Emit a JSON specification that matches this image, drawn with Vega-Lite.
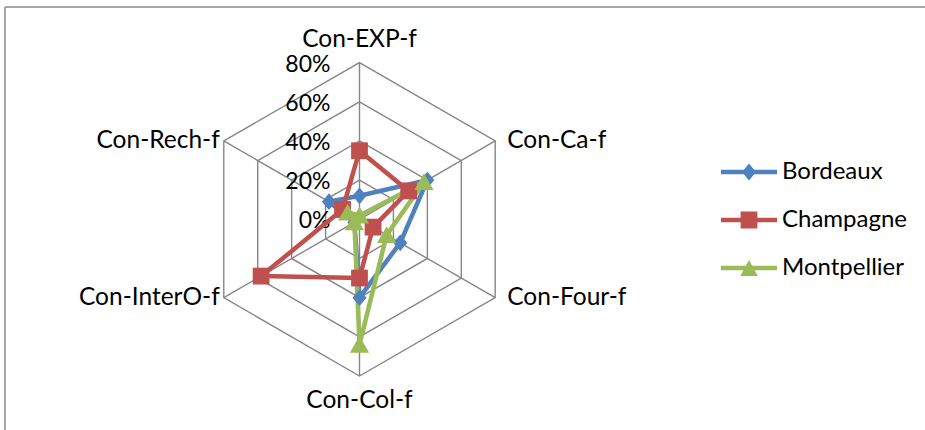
{
  "$schema": "https://vega.github.io/schema/vega-lite/v6.json",
  "width": 925,
  "height": 430,
  "autosize": {"type": "none"},
  "padding": 0,
  "background": "white",
  "config": {"view": {"stroke": null}, "font": "Lato"},
  "datasets": {
    "scores": [
      {"series": "Bordeaux", "axis": "Con-EXP-f", "value": 12},
      {"series": "Bordeaux", "axis": "Con-Ca-f", "value": 40},
      {"series": "Bordeaux", "axis": "Con-Four-f", "value": 24},
      {"series": "Bordeaux", "axis": "Con-Col-f", "value": 40},
      {"series": "Bordeaux", "axis": "Con-InterO-f", "value": 3},
      {"series": "Bordeaux", "axis": "Con-Rech-f", "value": 18},
      {"series": "Champagne", "axis": "Con-EXP-f", "value": 35},
      {"series": "Champagne", "axis": "Con-Ca-f", "value": 29},
      {"series": "Champagne", "axis": "Con-Four-f", "value": 8},
      {"series": "Champagne", "axis": "Con-Col-f", "value": 30},
      {"series": "Champagne", "axis": "Con-InterO-f", "value": 58},
      {"series": "Champagne", "axis": "Con-Rech-f", "value": 10},
      {"series": "Montpellier", "axis": "Con-EXP-f", "value": 2},
      {"series": "Montpellier", "axis": "Con-Ca-f", "value": 38},
      {"series": "Montpellier", "axis": "Con-Four-f", "value": 16},
      {"series": "Montpellier", "axis": "Con-Col-f", "value": 64},
      {"series": "Montpellier", "axis": "Con-InterO-f", "value": 3},
      {"series": "Montpellier", "axis": "Con-Rech-f", "value": 7}
    ],
    "axes": [
      {"axis": "Con-EXP-f", "idx": 0},
      {"axis": "Con-Ca-f", "idx": 1},
      {"axis": "Con-Four-f", "idx": 2},
      {"axis": "Con-Col-f", "idx": 3},
      {"axis": "Con-InterO-f", "idx": 4},
      {"axis": "Con-Rech-f", "idx": 5}
    ],
    "ticks": [
      {"t": 0, "ring": [0, 1, 2, 3, 4, 5]},
      {"t": 20, "ring": [0, 1, 2, 3, 4, 5]},
      {"t": 40, "ring": [0, 1, 2, 3, 4, 5]},
      {"t": 60, "ring": [0, 1, 2, 3, 4, 5]},
      {"t": 80, "ring": [0, 1, 2, 3, 4, 5]}
    ],
    "frame": [{"x0": -181, "x1": 288.7, "y0": 108.4, "y1": -107.57}]
  },
  "layer": [
    {
      "data": {"name": "frame"},
      "mark": {"type": "rule", "stroke": "#8a8a8a", "strokeWidth": 1.5},
      "encoding": {
        "x": {"field": "x0", "type": "quantitative", "scale": {"domain": [-183.53, 288.7], "nice": false, "zero": false}, "axis": null},
        "x2": {"field": "x1"},
        "y": {"field": "y0", "type": "quantitative", "scale": {"domain": [-107.57, 111.96], "nice": false, "zero": false}, "axis": null}
      }
    },
    {
      "data": {"name": "frame"},
      "mark": {"type": "rule", "stroke": "#8a8a8a", "strokeWidth": 1.5},
      "encoding": {
        "x": {"field": "x0", "type": "quantitative", "scale": {"domain": [-183.53, 288.7], "nice": false, "zero": false}, "axis": null},
        "y": {"field": "y0", "type": "quantitative", "scale": {"domain": [-107.57, 111.96], "nice": false, "zero": false}, "axis": null},
        "y2": {"field": "y1"}
      }
    },
    {
      "data": {"name": "ticks"},
      "transform": [
        {"filter": "datum.t > 0"},
        {"flatten": ["ring"], "as": ["idx"]},
        {"calculate": "PI/2 - datum.idx*PI/3", "as": "ang"},
        {"calculate": "datum.t*cos(datum.ang)", "as": "x"},
        {"calculate": "datum.t*sin(datum.ang)", "as": "y"}
      ],
      "mark": {"type": "line", "interpolate": "linear-closed", "stroke": "#868686", "strokeWidth": 1.4},
      "encoding": {
        "x": {"field": "x", "type": "quantitative", "scale": {"domain": [-183.53, 288.7], "nice": false, "zero": false}, "axis": null},
        "y": {"field": "y", "type": "quantitative", "scale": {"domain": [-107.57, 111.96], "nice": false, "zero": false}, "axis": null},
        "detail": {"field": "t", "type": "nominal"},
        "order": {"field": "idx", "type": "quantitative"}
      }
    },
    {
      "data": {"name": "axes"},
      "transform": [
        {"calculate": "PI/2 - datum.idx*PI/3", "as": "ang"},
        {"calculate": "80*cos(datum.ang)", "as": "x"},
        {"calculate": "80*sin(datum.ang)", "as": "y"},
        {"calculate": "0", "as": "zero"}
      ],
      "mark": {"type": "rule", "stroke": "#868686", "strokeWidth": 1.4},
      "encoding": {
        "x": {"field": "zero", "type": "quantitative", "scale": {"domain": [-183.53, 288.7], "nice": false, "zero": false}, "axis": null},
        "y": {"field": "zero", "type": "quantitative", "scale": {"domain": [-107.57, 111.96], "nice": false, "zero": false}, "axis": null},
        "x2": {"field": "x"},
        "y2": {"field": "y"}
      }
    },
    {
      "data": {"name": "ticks"},
      "transform": [{"calculate": "datum.t + '%'", "as": "label"}, {"calculate": "0", "as": "zero"}],
      "mark": {"type": "text", "align": "right", "baseline": "middle", "dx": -29, "dy": 2, "fontSize": 23, "fill": "#000000"},
      "encoding": {
        "x": {"field": "zero", "type": "quantitative", "scale": {"domain": [-183.53, 288.7], "nice": false, "zero": false}, "axis": null},
        "y": {"field": "t", "type": "quantitative", "scale": {"domain": [-107.57, 111.96], "nice": false, "zero": false}, "axis": null},
        "text": {"field": "label", "type": "nominal"}
      }
    },
    {
      "data": {"name": "scores"},
      "transform": [
        {"lookup": "axis", "from": {"data": {"name": "axes"}, "key": "axis", "fields": ["idx"]}},
        {"calculate": "PI/2 - datum.idx*PI/3", "as": "ang"},
        {"calculate": "datum.value*cos(datum.ang)", "as": "x"},
        {"calculate": "datum.value*sin(datum.ang)", "as": "y"}
      ],
      "mark": {"type": "line", "interpolate": "linear-closed", "strokeWidth": 4.5, "strokeJoin": "round", "strokeCap": "round"},
      "encoding": {
        "x": {"field": "x", "type": "quantitative", "scale": {"domain": [-183.53, 288.7], "nice": false, "zero": false}, "axis": null},
        "y": {"field": "y", "type": "quantitative", "scale": {"domain": [-107.57, 111.96], "nice": false, "zero": false}, "axis": null},
        "color": {
          "field": "series",
          "type": "nominal",
          "scale": {"domain": ["Bordeaux", "Champagne", "Montpellier"], "range": ["#4F81BD", "#C0504D", "#9BBB59"]},
          "legend": {
            "title": null,
            "orient": "none",
            "legendX": 737,
            "legendY": 160,
            "padding": 0,
            "symbolSize": 256,
            "labelOffset": 21,
            "labelFontSize": 24,
            "labelFont": "Lato",
            "labelColor": "#000000",
            "rowPadding": 24,
            "encode": {
              "symbols": {
                "update": {
                  "shape": {"signal": "datum.value === 'Bordeaux' ? 'M-3.5,-0.28L3.5,-0.28L3.5,0.28L-3.5,0.28Z M0,-1.05L0.875,0L0,1.05L-0.875,0Z' : datum.value === 'Champagne' ? 'M-3.5,-0.28L3.5,-0.28L3.5,0.28L-3.5,0.28Z M-1.05,-1.05L1.05,-1.05L1.05,1.05L-1.05,1.05Z' : 'M-3.5,-0.28L3.5,-0.28L3.5,0.28L-3.5,0.28Z M0,-1.0L1.1,1.0L-1.1,1.0Z'"},
                  "fill": {"signal": "datum.value === 'Bordeaux' ? '#4F81BD' : datum.value === 'Champagne' ? '#C0504D' : '#9BBB59'"},
                  "fillOpacity": {"value": 1},
                  "strokeWidth": {"value": 0}
                }
              }
            }
          }
        },
        "order": {"field": "idx", "type": "quantitative"}
      }
    },
    {
      "data": {"name": "scores"},
      "transform": [
        {"filter": "datum.series === 'Bordeaux'"},
        {"lookup": "axis", "from": {"data": {"name": "axes"}, "key": "axis", "fields": ["idx"]}},
        {"calculate": "PI/2 - datum.idx*PI/3", "as": "ang"},
        {"calculate": "datum.value*cos(datum.ang)", "as": "x"},
        {"calculate": "datum.value*sin(datum.ang)", "as": "y"}
      ],
      "mark": {"type": "point", "filled": true, "opacity": 1, "size": 256, "fill": "#4F81BD", "shape": "M0,-1.05L0.875,0L0,1.05L-0.875,0Z"},
      "encoding": {
        "x": {"field": "x", "type": "quantitative", "scale": {"domain": [-183.53, 288.7], "nice": false, "zero": false}, "axis": null},
        "y": {"field": "y", "type": "quantitative", "scale": {"domain": [-107.57, 111.96], "nice": false, "zero": false}, "axis": null}
      }
    },
    {
      "data": {"name": "scores"},
      "transform": [
        {"filter": "datum.series === 'Champagne'"},
        {"lookup": "axis", "from": {"data": {"name": "axes"}, "key": "axis", "fields": ["idx"]}},
        {"calculate": "PI/2 - datum.idx*PI/3", "as": "ang"},
        {"calculate": "datum.value*cos(datum.ang)", "as": "x"},
        {"calculate": "datum.value*sin(datum.ang)", "as": "y"}
      ],
      "mark": {"type": "point", "filled": true, "opacity": 1, "size": 256, "fill": "#C0504D", "shape": "M-1.05,-1.05L1.05,-1.05L1.05,1.05L-1.05,1.05Z"},
      "encoding": {
        "x": {"field": "x", "type": "quantitative", "scale": {"domain": [-183.53, 288.7], "nice": false, "zero": false}, "axis": null},
        "y": {"field": "y", "type": "quantitative", "scale": {"domain": [-107.57, 111.96], "nice": false, "zero": false}, "axis": null}
      }
    },
    {
      "data": {"name": "scores"},
      "transform": [
        {"filter": "datum.series === 'Montpellier'"},
        {"lookup": "axis", "from": {"data": {"name": "axes"}, "key": "axis", "fields": ["idx"]}},
        {"calculate": "PI/2 - datum.idx*PI/3", "as": "ang"},
        {"calculate": "datum.value*cos(datum.ang)", "as": "x"},
        {"calculate": "datum.value*sin(datum.ang)", "as": "y"}
      ],
      "mark": {"type": "point", "filled": true, "opacity": 1, "size": 256, "fill": "#9BBB59", "shape": "M0,-1.1L1.2,1.0L-1.2,1.0Z"},
      "encoding": {
        "x": {"field": "x", "type": "quantitative", "scale": {"domain": [-183.53, 288.7], "nice": false, "zero": false}, "axis": null},
        "y": {"field": "y", "type": "quantitative", "scale": {"domain": [-107.57, 111.96], "nice": false, "zero": false}, "axis": null}
      }
    },
    {
      "data": {"name": "axes"},
      "transform": [
        {"filter": "datum.idx == 0"},
        {"calculate": "PI/2 - datum.idx*PI/3", "as": "ang"},
        {"calculate": "80*cos(datum.ang)", "as": "x"},
        {"calculate": "80*sin(datum.ang)", "as": "y"}
      ],
      "mark": {"type": "text", "align": "center", "baseline": "middle", "dy": -23, "fontSize": 24.5, "fill": "#000000"},
      "encoding": {
        "x": {"field": "x", "type": "quantitative", "scale": {"domain": [-183.53, 288.7], "nice": false, "zero": false}, "axis": null},
        "y": {"field": "y", "type": "quantitative", "scale": {"domain": [-107.57, 111.96], "nice": false, "zero": false}, "axis": null},
        "text": {"field": "axis", "type": "nominal"}
      }
    },
    {
      "data": {"name": "axes"},
      "transform": [
        {"filter": "datum.idx == 3"},
        {"calculate": "PI/2 - datum.idx*PI/3", "as": "ang"},
        {"calculate": "80*cos(datum.ang)", "as": "x"},
        {"calculate": "80*sin(datum.ang)", "as": "y"}
      ],
      "mark": {"type": "text", "align": "center", "baseline": "middle", "dy": 25, "fontSize": 24.5, "fill": "#000000"},
      "encoding": {
        "x": {"field": "x", "type": "quantitative", "scale": {"domain": [-183.53, 288.7], "nice": false, "zero": false}, "axis": null},
        "y": {"field": "y", "type": "quantitative", "scale": {"domain": [-107.57, 111.96], "nice": false, "zero": false}, "axis": null},
        "text": {"field": "axis", "type": "nominal"}
      }
    },
    {
      "data": {"name": "axes"},
      "transform": [
        {"filter": "datum.idx == 1 || datum.idx == 2"},
        {"calculate": "PI/2 - datum.idx*PI/3", "as": "ang"},
        {"calculate": "80*cos(datum.ang)", "as": "x"},
        {"calculate": "80*sin(datum.ang)", "as": "y"}
      ],
      "mark": {"type": "text", "align": "left", "baseline": "middle", "dx": 12, "fontSize": 24.5, "fill": "#000000"},
      "encoding": {
        "x": {"field": "x", "type": "quantitative", "scale": {"domain": [-183.53, 288.7], "nice": false, "zero": false}, "axis": null},
        "y": {"field": "y", "type": "quantitative", "scale": {"domain": [-107.57, 111.96], "nice": false, "zero": false}, "axis": null},
        "text": {"field": "axis", "type": "nominal"}
      }
    },
    {
      "data": {"name": "axes"},
      "transform": [
        {"filter": "datum.idx == 4 || datum.idx == 5"},
        {"calculate": "PI/2 - datum.idx*PI/3", "as": "ang"},
        {"calculate": "80*cos(datum.ang)", "as": "x"},
        {"calculate": "80*sin(datum.ang)", "as": "y"}
      ],
      "mark": {"type": "text", "align": "right", "baseline": "middle", "dx": -4, "fontSize": 24.5, "fill": "#000000"},
      "encoding": {
        "x": {"field": "x", "type": "quantitative", "scale": {"domain": [-183.53, 288.7], "nice": false, "zero": false}, "axis": null},
        "y": {"field": "y", "type": "quantitative", "scale": {"domain": [-107.57, 111.96], "nice": false, "zero": false}, "axis": null},
        "text": {"field": "axis", "type": "nominal"}
      }
    }
  ]
}
